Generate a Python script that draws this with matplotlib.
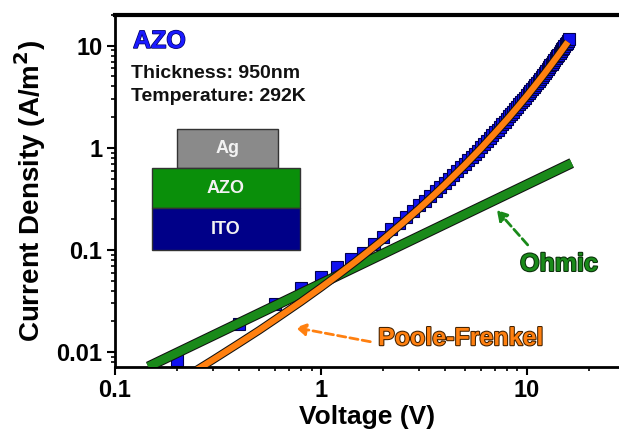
import matplotlib
matplotlib.use("Agg")
import matplotlib.pyplot as plt
import matplotlib.patheffects as pe
from matplotlib.patches import Rectangle
from matplotlib.ticker import FixedLocator, NullFormatter

plt.rcParams['font.family'] = ['Liberation Sans', 'DejaVu Sans']
plt.rcParams['font.weight'] = 'bold'

# measured AZO data (V, A/m^2)
volt_data = [0.2, 0.4, 0.6, 0.8, 1.0, 1.2, 1.4, 1.6, 1.8, 2.0,
             2.2, 2.4, 2.6, 2.8, 3.0, 3.2, 3.4, 3.6, 3.8, 4.0,
             4.2, 4.4, 4.6, 4.8, 5.0, 5.2, 5.4, 5.6, 5.8, 6.0,
             6.2, 6.4, 6.6, 6.8, 7.0, 7.2, 7.4, 7.6, 7.8, 8.0,
             8.2, 8.4, 8.6, 8.8, 9.0, 9.2, 9.4, 9.6, 9.8, 10.0,
             10.2, 10.4, 10.6, 10.8, 11.0, 11.2, 11.4, 11.6, 11.8, 12.0,
             12.2, 12.4, 12.6, 12.8, 13.0, 13.2, 13.4, 13.6, 13.8, 14.0,
             14.2, 14.4, 14.6, 14.8, 15.0, 15.2, 15.4, 15.6, 15.8, 16.0]
curr_data = [0.0083, 0.0190, 0.0295, 0.042, 0.055, 0.068, 0.082, 0.094, 0.114, 0.135,
             0.159, 0.184, 0.212, 0.241, 0.273, 0.305, 0.340, 0.377, 0.416, 0.457,
             0.500, 0.546, 0.594, 0.645, 0.698, 0.755, 0.814, 0.877, 0.942, 1.01,
             1.08, 1.16, 1.24, 1.33, 1.42, 1.51, 1.61, 1.71, 1.81, 1.92,
             2.03, 2.15, 2.27, 2.40, 2.53, 2.67, 2.81, 2.96, 3.11, 3.27,
             3.43, 3.60, 3.77, 3.95, 4.14, 4.33, 4.53, 4.74, 4.96, 5.18,
             5.41, 5.65, 5.90, 6.16, 6.42, 6.69, 6.97, 7.26, 7.56, 7.87,
             8.19, 8.52, 8.86, 9.20, 9.56, 9.92, 10.3, 10.7, 11.1, 11.6]

# Poole-Frenkel fit
volt_pf = [0.25, 0.3, 0.4, 0.5, 0.6, 0.8, 1.0, 1.2, 1.5, 2.0, 2.5, 3.0, 3.5,
           4.0, 5.0, 6.0, 7.0, 8.0, 9.0, 10.0, 11.0, 12.0, 13.0, 14.0, 15.0, 15.8]
curr_pf = [0.00672, 0.00844, 0.0122, 0.0163, 0.0209, 0.0311, 0.0429, 0.0563, 0.0794,
           0.126, 0.185, 0.255, 0.339, 0.437, 0.681, 0.997, 1.40, 1.89, 2.50, 3.23,
           4.11, 5.14, 6.36, 7.78, 9.42, 10.9]

# Ohmic fit
volt_ohm = [0.145, 16.5]
curr_ohm = [0.0072, 0.71]

x_major = [0.1, 1, 10]
x_minor = [0.2, 0.3, 0.4, 0.5, 0.6, 0.7, 0.8, 0.9,
           2, 3, 4, 5, 6, 7, 8, 9, 20]
y_major = [0.01, 0.1, 1, 10]
y_minor = [0.008, 0.009,
           0.02, 0.03, 0.04, 0.05, 0.06, 0.07, 0.08, 0.09,
           0.2, 0.3, 0.4, 0.5, 0.6, 0.7, 0.8, 0.9,
           2, 3, 4, 5, 6, 7, 8, 9, 20]

W, H = 619, 436
fig = plt.figure(figsize=(W / 100, H / 100), dpi=100)
ax = fig.add_axes([115 / W, 1 - 366.7 / H, 1 - 115 / W, (366.7 - 15) / H])


def fx(px):
    return px / W


def fy(py):
    return 1 - py / H


outline = lambda lw: [pe.Stroke(linewidth=lw + 1.5, foreground='#111111'), pe.Normal()]

ax.plot(volt_data, curr_data, 's', ms=9, color='#1010f0', mec='#000050', mew=0.8, zorder=2)
ax.plot(volt_ohm, curr_ohm, '-', color='#1a8a1a', lw=6, solid_capstyle='butt',
        path_effects=outline(6), zorder=3)
ax.plot(volt_pf, curr_pf, '-', color='#ff8010', lw=4.5, solid_capstyle='butt',
        path_effects=outline(4.5), zorder=4)

ax.set_xscale('log')
ax.set_yscale('log')
ax.set_xlim(0.1, 28)
ax.set_ylim(0.0072, 20)

ax.xaxis.set_major_locator(FixedLocator(x_major))
ax.xaxis.set_minor_locator(FixedLocator(x_minor))
ax.yaxis.set_major_locator(FixedLocator(y_major))
ax.yaxis.set_minor_locator(FixedLocator(y_minor))
ax.set_xticklabels(['0.1', '1', '10'])
ax.set_yticklabels(['0.01', '0.1', '1', '10'])
ax.xaxis.set_minor_formatter(NullFormatter())
ax.yaxis.set_minor_formatter(NullFormatter())
ax.tick_params(which='major', direction='out', length=6, width=1.5, labelsize=17, pad=3)
ax.tick_params(which='minor', direction='out', length=3, width=1.2)

ax.spines['right'].set_visible(False)
ax.spines['top'].set_linewidth(3)
ax.spines['left'].set_linewidth(2)
ax.spines['bottom'].set_linewidth(2)

ax.set_xlabel('Voltage (V)', fontsize=19, fontweight='bold', labelpad=2)
ax.set_ylabel('Current Density (A/m$^\\mathbf{2}$)', fontsize=20, fontweight='bold', labelpad=6)

# header text
fig.text(fx(133), fy(48), 'AZO', color='#1a1aff', fontsize=18, fontweight='bold', va='baseline',
         path_effects=[pe.withStroke(linewidth=1, foreground='#000060')])
fig.text(fx(131), fy(78), 'Thickness: 950nm', color='#111111', fontsize=14, fontweight='bold', va='baseline')
fig.text(fx(131), fy(101), 'Temperature: 292K', color='#111111', fontsize=14, fontweight='bold', va='baseline')

# device stack
layers = [
    (177, 129, 278, 168, '#8a8a8a', 'Ag'),
    (152, 168, 300, 208, '#0a8f0a', 'AZO'),
    (152, 208, 300, 250, '#000088', 'ITO'),
]
for x0, y0, x1, y1, col, name in layers:
    fig.patches.append(Rectangle((fx(x0), fy(y1)), fx(x1) - fx(x0), fy(y0) - fy(y1),
                                 transform=fig.transFigure, facecolor=col,
                                 edgecolor='#333333', lw=1))
    fig.text(fx((x0 + x1) / 2), fy((y0 + y1) / 2), name, color='#f2f2f2', fontsize=13,
             fontweight='bold', ha='center', va='center')

# annotations
ax.annotate('', xy=(7.0, 0.258), xytext=(10.3, 0.107),
            arrowprops=dict(arrowstyle='-|>,head_length=0.6,head_width=0.35', color='#1a8a1a',
                            lw=2, ls=(0, (3, 1.5))))
ax.text(14.3, 0.073, 'Ohmic', color='#1a8a1a', fontsize=18, fontweight='bold', ha='center', va='center',
        path_effects=[pe.withStroke(linewidth=1.5, foreground='#0a300a')])
ax.annotate('', xy=(0.73, 0.0176), xytext=(1.79, 0.0125),
            arrowprops=dict(arrowstyle='-|>,head_length=0.6,head_width=0.35', color='#ff8010',
                            lw=2, ls=(0, (3, 1.5))))
ax.text(4.78, 0.0137, 'Poole-Frenkel', color='#ff8010', fontsize=18, fontweight='bold',
        ha='center', va='center',
        path_effects=[pe.withStroke(linewidth=1.5, foreground='#402000')])

fig.savefig('out.png', dpi=100)
